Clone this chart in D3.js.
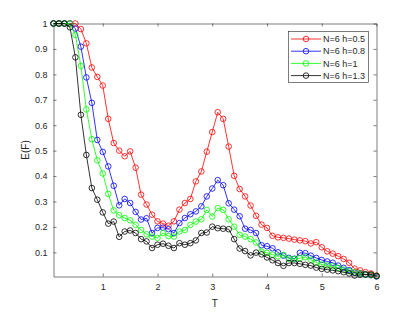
<!DOCTYPE html>
<html>
<head>
<meta charset="utf-8">
<script src="https://cdn.jsdelivr.net/npm/d3@7"></script>
<style>
body { margin: 0; background: #fff; }
text { font-family: "Liberation Sans", Arial, sans-serif; fill: #262626; }
</style>
</head>
<body>
<svg id="chart" width="415" height="312"></svg>
<script>
var T = [0.1,0.2,0.3,0.4,0.5,0.6,0.7,0.8,0.9,1.0,
         1.1,1.2,1.3,1.4,1.5,1.6,1.7,1.8,1.9,2.0,
         2.1,2.2,2.3,2.4,2.5,2.6,2.7,2.8,2.9,3.0,
         3.1,3.2,3.3,3.4,3.5,3.6,3.7,3.8,3.9,4.0,
         4.1,4.2,4.3,4.4,4.5,4.6,4.7,4.8,4.9,5.0,
         5.1,5.2,5.3,5.4,5.5,5.6,5.7,5.8,5.9,6.0];

var h05 = [1,1,1,1,1,0.978,0.922,0.827,0.79,0.756,
           0.625,0.53,0.50,0.478,0.497,0.433,0.327,0.288,0.248,0.222,
           0.213,0.205,0.222,0.268,0.294,0.31,0.379,0.418,0.496,0.573,
           0.651,0.625,0.516,0.401,0.349,0.32,0.284,0.244,0.209,0.196,
           0.165,0.159,0.157,0.154,0.15,0.147,0.144,0.135,0.14,0.12,
           0.104,0.095,0.085,0.074,0.059,0.036,0.029,0.022,0.017,0.009];

var h08 = [1,1,1,1,0.98,0.909,0.788,0.688,0.542,0.495,
           0.438,0.362,0.285,0.31,0.294,0.259,0.229,0.234,0.176,0.196,
           0.197,0.191,0.176,0.215,0.235,0.25,0.261,0.281,0.32,0.351,
           0.384,0.364,0.293,0.268,0.242,0.193,0.188,0.176,0.128,0.124,
           0.116,0.10,0.087,0.078,0.075,0.098,0.097,0.087,0.078,0.07,
           0.064,0.059,0.048,0.039,0.03,0.02,0.017,0.013,0.01,0.005];

var h1 = [1,1,1,1,0.955,0.833,0.662,0.545,0.462,0.41,
          0.33,0.265,0.246,0.235,0.226,0.208,0.188,0.171,0.162,0.157,
          0.176,0.164,0.162,0.182,0.188,0.208,0.221,0.23,0.267,0.241,
          0.274,0.267,0.23,0.201,0.169,0.162,0.152,0.139,0.103,0.098,
          0.091,0.084,0.09,0.075,0.074,0.077,0.081,0.071,0.06,0.052,
          0.048,0.045,0.039,0.032,0.026,0.022,0.017,0.013,0.011,0.007];

var h13 = [1,1,1,0.985,0.867,0.641,0.483,0.353,0.307,0.257,
           0.213,0.221,0.161,0.182,0.186,0.176,0.152,0.143,0.117,0.13,
           0.134,0.126,0.117,0.136,0.13,0.136,0.147,0.176,0.178,0.201,
           0.195,0.193,0.191,0.152,0.115,0.105,0.088,0.099,0.092,0.08,
           0.069,0.058,0.047,0.058,0.058,0.055,0.051,0.048,0.04,0.035,
           0.032,0.029,0.026,0.022,0.017,0.009,0.012,0.013,0.013,0.007];

var seriesNames = ["N=6 h=0.5", "N=6 h=0.8", "N=6 h=1", "N=6 h=1.3"];
var seriesColors = ["#ff0000", "#0000ff", "#00ff00", "#000000"];
var xTicks = [1, 2, 3, 4, 5, 6];
var yTicks = [0.1, 0.2, 0.3, 0.4, 0.5, 0.6, 0.7, 0.8, 0.9, 1];

var svg = d3.select("#chart");

var x = d3.scaleLinear().domain([0.1, 6]).range([53.5, 376.5]);
var y = d3.scaleLinear().domain([0.005, 1]).range([276.5, 23.5]);

var axisColor = "#262626";
var fmt = d3.format("~g");

function styleAxis(g) {
    g.select(".domain").attr("stroke", axisColor).attr("stroke-width", 0.6);
    g.selectAll(".tick line").attr("stroke", axisColor).attr("stroke-width", 0.6);
    g.selectAll(".tick text").attr("font-size", 9).attr("fill", "#262626")
        .attr("font-family", "Liberation Sans, Arial, sans-serif");
}

svg.append("g")
    .attr("transform", "translate(0,276.5)")
    .call(d3.axisBottom(x).tickValues(xTicks).tickSize(-3).tickSizeOuter(0).tickPadding(7).tickFormat(fmt))
    .call(styleAxis);

svg.append("g")
    .attr("transform", "translate(0,23.5)")
    .call(d3.axisTop(x).tickValues(xTicks).tickSize(-3).tickSizeOuter(0).tickFormat(""))
    .call(styleAxis);

svg.append("g")
    .attr("transform", "translate(53.5,0)")
    .call(d3.axisLeft(y).tickValues(yTicks).tickSize(-3).tickSizeOuter(0).tickPadding(6).tickFormat(fmt))
    .call(styleAxis);

svg.append("g")
    .attr("transform", "translate(376.5,0)")
    .call(d3.axisRight(y).tickValues(yTicks).tickSize(-3).tickSizeOuter(0).tickFormat(""))
    .call(styleAxis);

// axis titles
svg.append("text")
    .attr("x", 214.7)
    .attr("y", 307)
    .attr("text-anchor", "middle")
    .attr("font-size", 10)
    .text("T");

svg.append("text")
    .attr("transform", "translate(28.5,150) rotate(-90)")
    .attr("text-anchor", "middle")
    .attr("font-size", 10)
    .text("E(F)");

// series
var allSeries = [h05, h08, h1, h13];

var line = d3.line()
    .x(function(d, i) { return x(T[i]); })
    .y(function(d) { return y(d); });

allSeries.forEach(function(vals, k) {
    var g = svg.append("g");
    g.append("path")
        .datum(vals)
        .attr("d", line)
        .attr("fill", "none")
        .attr("stroke", seriesColors[k])
        .attr("stroke-width", 0.8);
    g.selectAll("circle")
        .data(vals)
        .enter().append("circle")
        .attr("cx", function(d, i) { return x(T[i]); })
        .attr("cy", function(d) { return y(d); })
        .attr("r", 2.8)
        .attr("fill", "none")
        .attr("stroke", seriesColors[k])
        .attr("stroke-width", 0.8);
});

// legend
var legend = svg.append("g");

legend.append("rect")
    .attr("x", 288.5)
    .attr("y", 31.5)
    .attr("width", 80)
    .attr("height", 51)
    .attr("fill", "#fff")
    .attr("stroke", axisColor)
    .attr("stroke-width", 0.6);

var rows = legend.selectAll(".row")
    .data(seriesNames)
    .enter().append("g")
    .attr("class", "row")
    .attr("transform", function(d, i) { return "translate(0," + (39 + i * 12.2) + ")"; });

rows.append("line")
    .attr("x1", 291)
    .attr("x2", 321)
    .attr("stroke", function(d, i) { return seriesColors[i]; })
    .attr("stroke-width", 0.8);

rows.append("circle")
    .attr("cx", 306)
    .attr("r", 2.8)
    .attr("fill", "none")
    .attr("stroke", function(d, i) { return seriesColors[i]; })
    .attr("stroke-width", 0.8);

rows.append("text")
    .attr("x", 323)
    .attr("dy", "0.35em")
    .attr("font-size", 9)
    .text(function(d) { return d; });
</script>
</body>
</html>
